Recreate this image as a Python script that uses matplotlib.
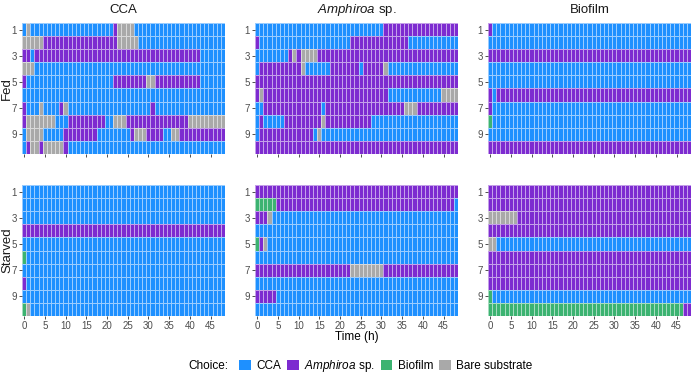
import numpy as np
import matplotlib.pyplot as plt
from matplotlib.colors import ListedColormap
from matplotlib.patches import Patch

plt.rcParams['font.family'] = 'Liberation Sans'
plt.rcParams['mathtext.fontset'] = 'custom'
plt.rcParams['mathtext.it'] = 'Liberation Sans:italic'
plt.rcParams['mathtext.rm'] = 'Liberation Sans'

# choice codes: C = CCA, A = Amphiroa, B = Biofilm, S = bare substrate
choices = ['C', 'A', 'B', 'S']
choice_labels = ['CCA', r'$\mathit{Amphiroa}$ sp.', 'Biofilm', 'Bare substrate']
choice_colors = ['#1E90FF', '#7D2BD0', '#3CB371', '#A9A9A9']

hours = np.arange(0, 49)
individuals = np.arange(1, 11)

# each individual: runs of (choice, number of hours)
fed_cca = [
    [('C', 1), ('S', 1), ('C', 20), ('A', 1), ('S', 4), ('C', 22)],
    [('S', 5), ('A', 18), ('S', 5), ('C', 21)],
    [('A', 2), ('C', 1), ('A', 40), ('C', 6)],
    [('S', 3), ('C', 46)],
    [('A', 1), ('C', 21), ('A', 8), ('S', 2), ('A', 11), ('C', 6)],
    [('C', 49)],
    [('A', 1), ('C', 3), ('S', 1), ('C', 4), ('A', 1), ('S', 1), ('C', 20), ('A', 1), ('C', 17)],
    [('A', 1), ('S', 7), ('C', 3), ('A', 9), ('C', 2), ('S', 3), ('A', 15), ('S', 9)],
    [('C', 1), ('S', 4), ('C', 5), ('A', 8), ('C', 8), ('A', 1), ('S', 3), ('A', 4), ('C', 2), ('S', 2), ('A', 11)],
    [('C', 1), ('A', 1), ('S', 2), ('A', 1), ('S', 5), ('A', 1), ('C', 38)],
]
fed_amph = [
    [('C', 31), ('A', 18)],
    [('A', 1), ('C', 22), ('A', 14), ('C', 12)],
    [('C', 8), ('A', 1), ('S', 1), ('A', 1), ('S', 4), ('A', 34)],
    [('C', 1), ('A', 10), ('S', 1), ('C', 6), ('A', 7), ('C', 1), ('A', 5), ('S', 1), ('C', 17)],
    [('A', 49)],
    [('A', 1), ('S', 1), ('A', 30), ('C', 13), ('S', 4)],
    [('C', 2), ('A', 14), ('C', 1), ('A', 19), ('S', 3), ('A', 10)],
    [('C', 1), ('A', 1), ('C', 5), ('A', 9), ('S', 1), ('A', 11), ('C', 21)],
    [('C', 1), ('A', 13), ('C', 1), ('S', 1), ('C', 33)],
    [('A', 49)],
]
fed_bio = [
    [('A', 1), ('C', 48)],
    [('C', 49)],
    [('A', 49)],
    [('C', 49)],
    [('C', 49)],
    [('A', 1), ('C', 1), ('A', 47)],
    [('A', 1), ('C', 48)],
    [('B', 1), ('C', 48)],
    [('C', 49)],
    [('A', 49)],
]
starved_cca = [
    [('C', 49)],
    [('C', 49)],
    [('C', 49)],
    [('A', 49)],
    [('C', 49)],
    [('B', 1), ('C', 48)],
    [('C', 49)],
    [('A', 1), ('C', 48)],
    [('C', 49)],
    [('B', 1), ('S', 1), ('C', 47)],
]
starved_amph = [
    [('A', 49)],
    [('B', 5), ('A', 43), ('C', 1)],
    [('A', 3), ('S', 1), ('C', 45)],
    [('C', 49)],
    [('B', 1), ('A', 1), ('S', 1), ('C', 46)],
    [('C', 49)],
    [('A', 23), ('S', 8), ('A', 18)],
    [('C', 49)],
    [('A', 5), ('C', 44)],
    [('C', 49)],
]
starved_bio = [
    [('A', 49)],
    [('A', 49)],
    [('S', 7), ('A', 42)],
    [('A', 49)],
    [('S', 2), ('C', 47)],
    [('A', 49)],
    [('A', 49)],
    [('A', 49)],
    [('B', 1), ('C', 48)],
    [('B', 47), ('A', 2)],
]

col_titles = ['CCA', r'$\mathit{Amphiroa}$ sp.', 'Biofilm']
row_titles = ['Fed', 'Starved']
panels = [[fed_cca, fed_amph, fed_bio], [starved_cca, starved_amph, starved_bio]]


def to_grid(runs_list):
    grid = []
    for runs in runs_list:
        row = []
        for c, n in runs:
            row += [choices.index(c)] * n
        grid.append(row)
    return np.array(grid)


cmap = ListedColormap(choice_colors)
W, H = 696, 376
fig = plt.figure(figsize=(W / 100, H / 100), dpi=100)

lefts = [22, 255, 488]
tops = [23, 185]
pw, ph = 203, 131

for r in range(2):
    for c in range(3):
        ax = fig.add_axes([lefts[c] / W, 1 - (tops[r] + ph) / H, pw / W, ph / H])
        grid = to_grid(panels[r][c])
        xe = np.append(hours, hours[-1] + 1) - 0.5
        ye = np.append(individuals, individuals[-1] + 1) - 0.5
        ax.pcolormesh(xe, ye, grid, cmap=cmap, vmin=-0.5, vmax=3.5,
                      edgecolor=(1, 1, 1, 0.55), linewidth=0.4)
        ax.set_xlim(-0.5, 48.5)
        ax.set_ylim(10.5, 0.5)
        ax.set_yticks([1, 3, 5, 7, 9])
        ax.set_xticks(np.arange(0, 50, 5))
        for s in ax.spines.values():
            s.set_visible(False)
        ax.tick_params(length=2.2, width=0.6, color='#333333', pad=1.5,
                       labelsize=7, labelcolor='#4D4D4D')
        if r == 0:
            ax.tick_params(labelbottom=False)
            ax.set_title(col_titles[c], fontsize=9.5, pad=7, color='#1A1A1A')
        if c == 0:
            fig.text(7 / W, 1 - (tops[r] + ph / 2) / H, row_titles[r], rotation=90,
                     ha='center', va='center', fontsize=9.5, color='#1A1A1A')

fig.text(357 / W, 1 - 337 / H, 'Time (h)', ha='center', va='center', fontsize=8.5)
fig.text(228 / W, 1 - 366 / H, 'Choice:', ha='right', va='center', fontsize=8.5)
handles = [Patch(facecolor=col, edgecolor='none') for col in choice_colors]
fig.legend(handles, choice_labels, loc='center left', bbox_to_anchor=(239 / W, 1 - 366 / H),
           ncol=4, frameon=False, fontsize=8.5, handlelength=1.0, handleheight=1.0,
           handletextpad=0.45, columnspacing=0.5, borderaxespad=0, borderpad=0)

fig.savefig('out.png', dpi=100)
